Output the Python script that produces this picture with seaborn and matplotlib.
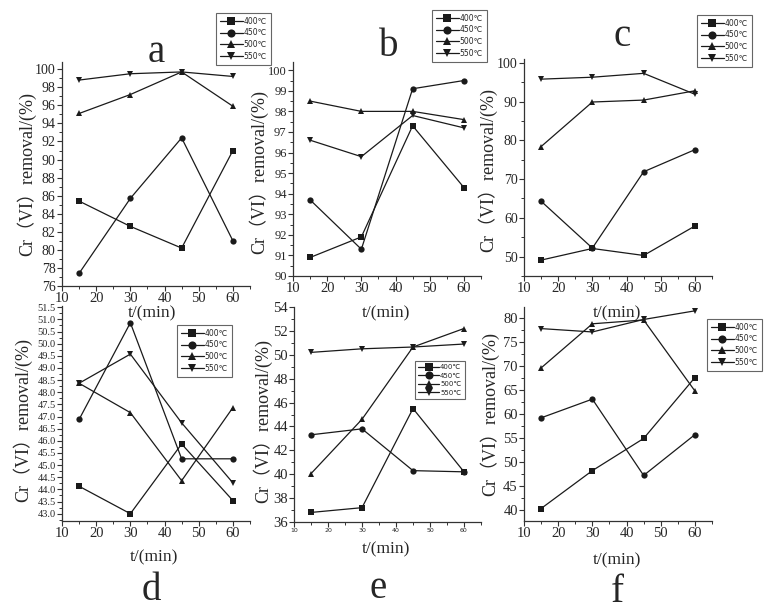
import pandas as pd
import matplotlib
matplotlib.use('Agg')
import matplotlib.pyplot as plt
import seaborn as sns
from matplotlib.ticker import MultipleLocator, FormatStrFormatter

# sampling times (min) and calcination temperatures
times = [15, 30, 45, 60]
temps = ['400℃', '450℃', '500℃', '550℃']
markers = ['s', 'o', '^', 'v']

# Cr(VI) removal (%) per panel, one row per temperature (same order as temps)
a_vals = [[85.4, 82.6, 80.2, 91.0],
          [77.4, 85.7, 92.4, 81.0],
          [95.1, 97.2, 99.7, 95.9],
          [98.8, 99.5, 99.7, 99.2]]
b_vals = [[90.9, 91.9, 97.3, 94.3],
          [93.7, 91.3, 99.1, 99.5],
          [98.5, 98.0, 98.0, 97.6],
          [96.6, 95.8, 97.8, 97.2]]
c_vals = [[49.1, 52.1, 50.3, 57.9],
          [64.3, 52.2, 71.9, 77.6],
          [78.4, 89.9, 90.4, 92.8],
          [95.8, 96.3, 97.3, 91.9]]
d_vals = [[44.13, 43.0, 45.87, 43.54],
          [46.88, 50.86, 45.26, 45.26],
          [48.37, 47.16, 44.36, 47.37],
          [48.37, 49.57, 46.74, 44.27]]
e_vals = [[36.8, 37.2, 45.5, 40.2],
          [43.3, 43.8, 40.3, 40.2],
          [40.05, 44.6, 50.65, 52.2],
          [50.2, 50.5, 50.65, 50.9]]
f_vals = [[40.3, 48.2, 54.9, 67.6],
          [59.2, 63.1, 47.2, 55.7],
          [69.6, 78.8, 79.6, 64.8],
          [77.8, 77.1, 79.7, 81.5]]

panel_letters = ['a', 'b', 'c', 'd', 'e', 'f']
ylabel = 'Cr（VI）removal/(%)'
xlabel = 't/(min)'

W, H = 766, 612


def to_frame(vals):
    rows = []
    for temp, series in zip(temps, vals):
        for t, v in zip(times, series):
            rows.append({'t': t, 'removal': v, 'temp': temp})
    return pd.DataFrame(rows)


def fbox(l, t, r, b):
    return [l / W, 1 - b / H, (r - l) / W, (b - t) / H]


# layout of each panel, in pixels of the 766x612 picture
panels = [
    dict(vals=a_vals, box=(62, 62, 250, 286), ylim=(76, 100.8), step=2, fmt='%d', ysize=10,
         leg=(216, 13), legsize=5.5, ylab=(26, 174), xlab=(152, 313), letter=(156, 62)),
    dict(vals=b_vals, box=(293, 62, 481, 276), ylim=(90, 100.4), step=1, fmt='%d', ysize=9,
         leg=(432, 10), legsize=5.5, ylab=(258, 172), xlab=(386, 313), letter=(389, 56)),
    dict(vals=c_vals, box=(524, 59, 712, 276), ylim=(45, 101), step=10, fmt='%d', ysize=10,
         leg=(697, 15), legsize=5.5, ylab=(487, 170), xlab=(617, 313), letter=(622, 46)),
    dict(vals=d_vals, box=(62, 306, 250, 521), ylim=(42.7, 51.55), step=0.5, fmt='%.1f', ysize=7.5,
         leg=(177, 325), legsize=5.5, ylab=(22, 420), xlab=(154, 557), letter=(151, 600)),
    dict(vals=e_vals, box=(294, 307, 481, 522), ylim=(36, 54), step=2, fmt='%d', ysize=10.5,
         leg=(415, 361), legsize=5, ylab=(262, 421), xlab=(386, 549), letter=(378, 598)),
    dict(vals=f_vals, box=(524, 307, 712, 521), ylim=(37.7, 82.3), step=5, fmt='%d', ysize=10.5,
         leg=(707, 319), legsize=5.5, ylab=(489, 414), xlab=(617, 560), letter=(617, 602)),
]

sns.set_theme(style='ticks')
plt.rcParams['font.family'] = ['Liberation Serif', 'Noto Sans CJK SC', 'DejaVu Sans']

fig = plt.figure(figsize=(W / 100, H / 100), dpi=100)
line_color = '#1a1a1a'

for i, p in enumerate(panels):
    ax = fig.add_axes(fbox(*p['box']))
    df = to_frame(p['vals'])
    sns.lineplot(data=df, x='t', y='removal', style='temp', style_order=temps,
                 markers=markers, dashes=False, color=line_color, ax=ax,
                 linewidth=0.9, markersize=4.5, markeredgewidth=0, errorbar=None)

    ax.set_xlim(10, 65)
    ax.set_ylim(*p['ylim'])
    ax.xaxis.set_major_locator(MultipleLocator(10))
    ax.xaxis.set_minor_locator(MultipleLocator(5))
    ax.yaxis.set_major_locator(MultipleLocator(p['step']))
    ax.yaxis.set_minor_locator(MultipleLocator(p['step'] / 2))
    ax.yaxis.set_major_formatter(FormatStrFormatter(p['fmt']))
    ax.set_xlabel('')
    ax.set_ylabel('')
    sns.despine(ax=ax)
    for s in ('left', 'bottom'):
        ax.spines[s].set_color('#333333')
        ax.spines[s].set_linewidth(0.9)
    ax.tick_params(which='major', direction='out', length=3.5, width=0.8, color='#333333', pad=1)
    ax.tick_params(which='minor', direction='out', length=2, width=0.7, color='#333333')
    ax.tick_params(axis='y', labelsize=p['ysize'])
    if i == 4:
        ax.tick_params(axis='x', labelsize=4.5)
        for lab in ax.get_xticklabels():
            lab.set_family('DejaVu Sans')
    else:
        ax.tick_params(axis='x', labelsize=10.5)

    # legend box floating over the figure like the Origin export
    if ax.get_legend() is not None:
        ax.get_legend().remove()
    leg = ax.legend(ax.lines[:4], temps, loc='upper left',
                    bbox_to_anchor=(p['leg'][0] / W, 1 - p['leg'][1] / H),
                    bbox_transform=fig.transFigure, frameon=True, fancybox=False,
                    edgecolor='#666666', framealpha=1, borderaxespad=0,
                    prop={'family': 'DejaVu Sans', 'size': p['legsize']},
                    handlelength=3, handletextpad=0.1, borderpad=0.5,
                    labelspacing=0.35, markerscale=1.3)
    leg.get_frame().set_linewidth(0.8)

    fig.text(p['ylab'][0] / W, 1 - p['ylab'][1] / H, ylabel, rotation=90,
             ha='center', va='center', fontsize=13)
    fig.text(p['xlab'][0] / W, 1 - p['xlab'][1] / H, xlabel,
             ha='center', va='center', fontsize=12.5)
    fig.text(p['letter'][0] / W, 1 - p['letter'][1] / H, panel_letters[i],
             ha='center', va='baseline', fontsize=28)

fig.savefig('out.png', dpi=100)
